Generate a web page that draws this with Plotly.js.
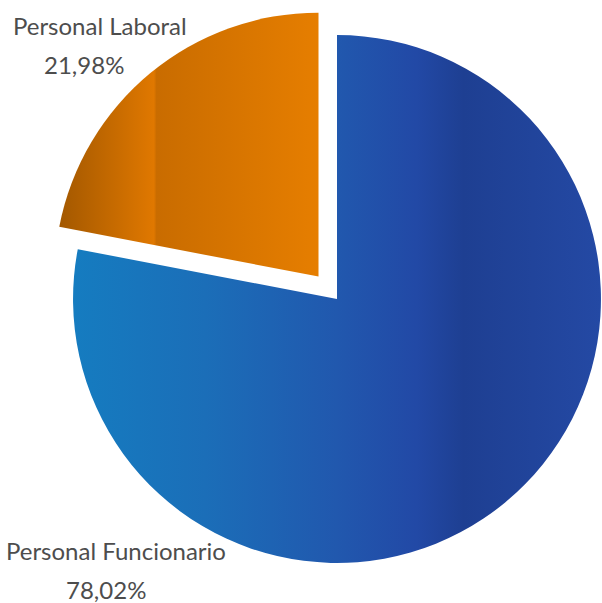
<!DOCTYPE html>
<html>
<head>
<meta charset="utf-8">
<script src="https://cdn.plot.ly/plotly-3.0.1.min.js"></script>
<style>
html,body{margin:0;padding:0;background:#fff;overflow:hidden;}
#wrap{width:602px;height:603px;overflow:hidden;position:relative;}
#chart{width:640px;height:603px;}
</style>
</head>
<body>
<div id="wrap"><div id="chart"></div></div>
<script>
// ---- data ----
const categories = ['Personal Funcionario', 'Personal Laboral'];
const shares = [78.02, 21.98];
const pulls = [0, 0.11];

// ---- style ----
const W = 640, H = 603;
const labelFont = {family: 'Lato, "Open Sans", sans-serif', size: 24, color: '#4d4d4d'};
const fmt = v => v.toFixed(2).replace('.', ',') + '%';

// label anchor pixels (left x, vertical middle y)
const labelPos = [
  {name: [5, 550], pct: [65, 589]},
  {name: [12, 25], pct: [43, 65]}
];

const annotations = [];
categories.forEach((c, i) => {
  annotations.push({text: c, xref: 'paper', yref: 'paper', x: labelPos[i].name[0] / W, y: 1 - labelPos[i].name[1] / H,
    xanchor: 'left', yanchor: 'middle', showarrow: false, borderpad: 0, font: labelFont});
  annotations.push({text: fmt(shares[i]), xref: 'paper', yref: 'paper', x: labelPos[i].pct[0] / W, y: 1 - labelPos[i].pct[1] / H,
    xanchor: 'left', yanchor: 'middle', showarrow: false, borderpad: 0, font: labelFont});
});

const trace = {
  type: 'pie',
  labels: categories,
  values: shares,
  pull: pulls,
  sort: false,
  direction: 'clockwise',
  rotation: 0,
  textinfo: 'none',
  hoverinfo: 'label+percent',
  marker: {colors: ['#2150a8', '#d87400'], line: {width: 0}},
  domain: {x: [44 / W, 630 / W], y: [1 - 592 / H, 1 - 6 / H]}
};

const layout = {
  width: W, height: H,
  margin: {l: 0, r: 0, t: 0, b: 0},
  showlegend: false,
  paper_bgcolor: '#ffffff',
  separators: ',.',
  annotations: annotations
};

const gradients = [
  {id: 'gradFunc', stops: [[0, '#157cc0'], [0.25, '#1b6eb8'], [0.5, '#2158ae'], [0.65, '#2249a6'], [0.74, '#1e3f92'], [1, '#2449a4']]},
  {id: 'gradLaboral', stops: [[0, '#a35800'], [0.365, '#e07800'], [0.375, '#c96c00'], [1, '#e67e00']]}
];

Plotly.newPlot('chart', [trace], layout, {displayModeBar: false, staticPlot: true}).then(gd => {
  const svg = gd.querySelector('svg.main-svg');
  const NS = 'http://www.w3.org/2000/svg';
  let defs = svg.querySelector('defs');
  if (!defs) { defs = document.createElementNS(NS, 'defs'); svg.insertBefore(defs, svg.firstChild); }
  gradients.forEach(g => {
    const lg = document.createElementNS(NS, 'linearGradient');
    lg.setAttribute('id', g.id);
    lg.setAttribute('x1', '0'); lg.setAttribute('y1', '0');
    lg.setAttribute('x2', '1'); lg.setAttribute('y2', '0');
    g.stops.forEach(s => {
      const st = document.createElementNS(NS, 'stop');
      st.setAttribute('offset', s[0]);
      st.setAttribute('stop-color', s[1]);
      lg.appendChild(st);
    });
    defs.appendChild(lg);
  });
  const paths = gd.querySelectorAll('g.slice path.surface');
  paths.forEach((p, i) => { p.style.fill = 'url(#' + gradients[i].id + ')'; });
});
</script>
</body>
</html>
